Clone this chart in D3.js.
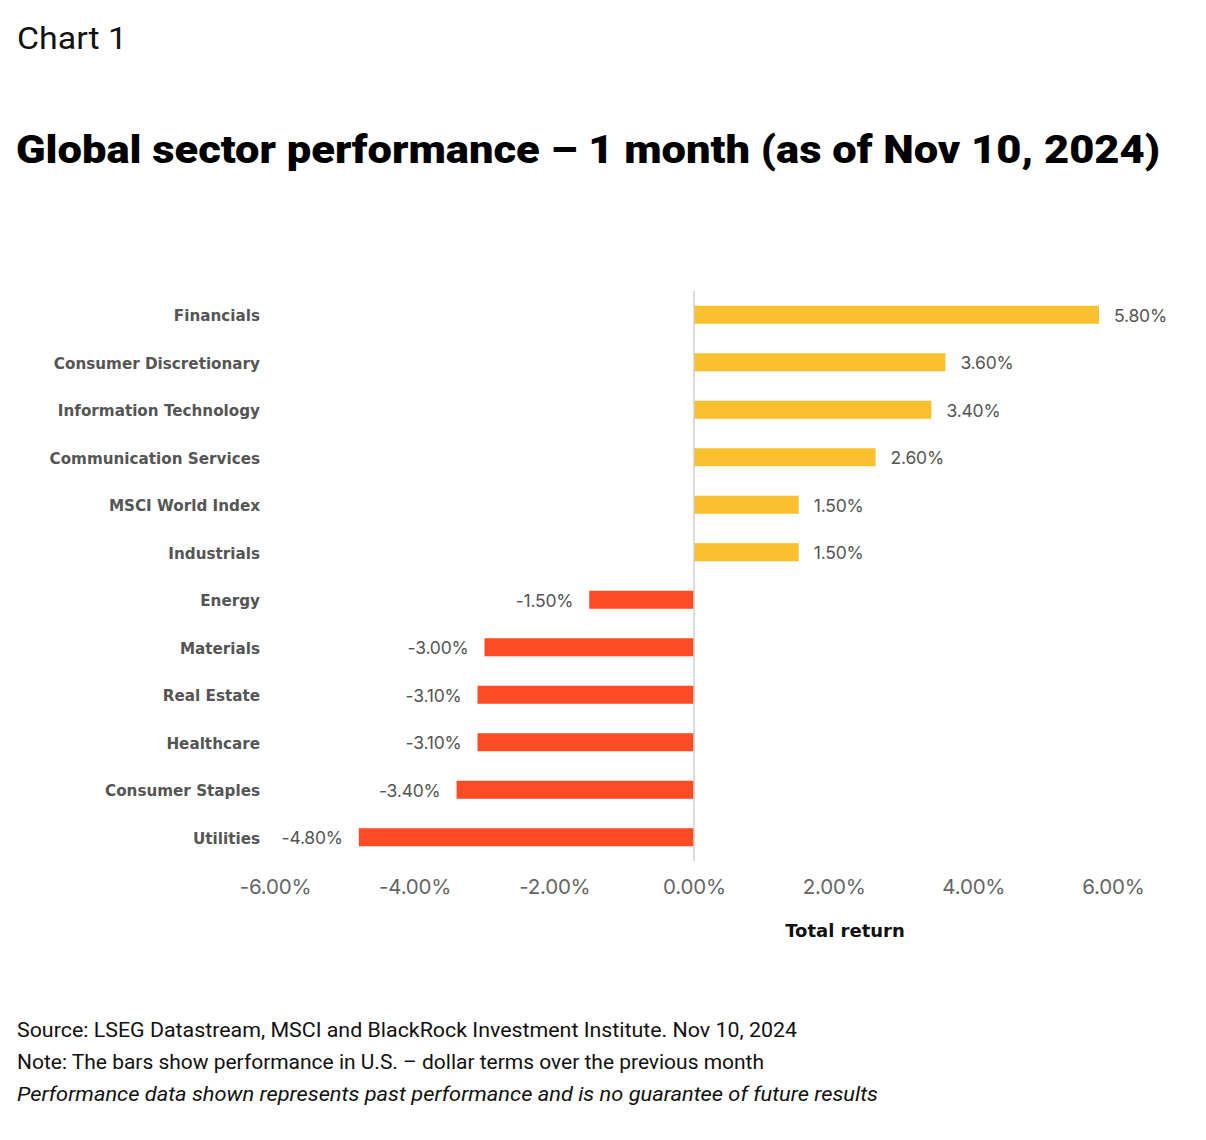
<!DOCTYPE html>
<html><head><meta charset="utf-8">
<script src="https://cdn.jsdelivr.net/npm/d3@7/dist/d3.min.js"></script>
<style>body{margin:0;background:#fff}svg{display:block}</style>
</head><body>
<script>
const categories = ["Financials","Consumer Discretionary","Information Technology","Communication Services","MSCI World Index","Industrials","Energy","Materials","Real Estate","Healthcare","Consumer Staples","Utilities"];
const values = [5.8,3.6,3.4,2.6,1.5,1.5,-1.5,-3.0,-3.1,-3.1,-3.4,-4.8];
const tickValues = [-6,-4,-2,0,2,4,6];

const W=1206,H=1140;
const svg=d3.select("body").append("svg").attr("width",W).attr("height",H);
svg.append("rect").attr("width",W).attr("height",H).attr("fill","#fff");

const x=d3.scaleLinear().domain([-6,6]).range([275,1113]);
const y=d3.scaleBand().domain(categories).range([291,861]).paddingInner(0.62).paddingOuter(0.31);

svg.append("text").attr("x",17).attr("y",49).attr("font-family","Liberation Sans Narrow, Roboto, sans-serif")
  .attr("font-size",31).attr("fill","#111").attr("textLength",110).attr("lengthAdjust","spacingAndGlyphs").text("Chart 1");
svg.append("text").attr("x",16).attr("y",163).attr("font-family","Roboto, sans-serif").attr("font-weight",900)
  .attr("font-size",38).attr("fill","#000").attr("textLength",1144).attr("lengthAdjust","spacingAndGlyphs")
  .text("Global sector performance – 1 month (as of Nov 10, 2024)");

// bars
svg.selectAll("rect.bar").data(categories).join("rect").attr("class","bar")
  .attr("x",(d,i)=>x(Math.min(0,values[i])))
  .attr("width",(d,i)=>Math.abs(x(values[i])-x(0)))
  .attr("y",d=>y(d)).attr("height",y.bandwidth())
  .attr("fill",(d,i)=>values[i]>=0?"#FBC02D":"#FC4C26");

// zero line
svg.append("line").attr("x1",x(0)).attr("x2",x(0)).attr("y1",291).attr("y2",861)
  .attr("stroke","#cfcfcf").attr("stroke-width",1.5);

// category labels
svg.selectAll("text.cat").data(categories).join("text").attr("class","cat")
  .attr("x",260).attr("y",d=>y(d)+y.bandwidth()/2+1).attr("dy","0.35em").attr("text-anchor","end")
  .attr("font-family","DejaVu Sans, sans-serif").attr("font-weight","bold").attr("font-size",15.2)
  .attr("fill","#555").text(d=>d);

// value labels
svg.selectAll("text.val").data(categories).join("text").attr("class","val")
  .attr("x",(d,i)=>values[i]>=0?x(values[i])+15:x(values[i])-16)
  .attr("y",d=>y(d)+y.bandwidth()/2+1).attr("dy","0.35em")
  .attr("text-anchor",(d,i)=>values[i]>=0?"start":"end")
  .attr("font-family","Inter, sans-serif").attr("font-size",17.5).attr("letter-spacing","-0.2")
  .attr("fill","#555").text((d,i)=>values[i].toFixed(2)+"%");

// x axis
const axis=d3.axisBottom(x).tickValues(tickValues).tickSize(0).tickPadding(0).tickFormat(d=>d.toFixed(2)+"%");
const g=svg.append("g").attr("transform","translate(0,883)").call(axis);
g.select(".domain").remove();
g.selectAll("text").attr("font-family","Inter, sans-serif").attr("font-size",20.5).attr("fill","#666").attr("dy","0.55em").attr("letter-spacing","-0.2");

svg.append("text").attr("x",845).attr("y",937).attr("text-anchor","middle")
  .attr("font-family","DejaVu Sans, sans-serif").attr("font-weight","bold").attr("font-size",18).attr("fill","#111").text("Total return");

const notes=[["Source: LSEG Datastream, MSCI and BlackRock Investment Institute. Nov 10, 2024","normal",780],
 ["Note: The bars show performance in U.S. – dollar terms over the previous month","normal",747],
 ["Performance data shown represents past performance and is no guarantee of future results","italic",861]];
notes.forEach((n,i)=>{
  svg.append("text").attr("x",17).attr("y",1037+i*32).attr("font-family","Liberation Sans Narrow, Roboto, sans-serif")
   .attr("font-size",20).attr("font-style",n[1]).attr("fill","#111")
   .attr("textLength",n[2]).attr("lengthAdjust","spacingAndGlyphs").text(n[0]);
});
</script>
</body></html>
